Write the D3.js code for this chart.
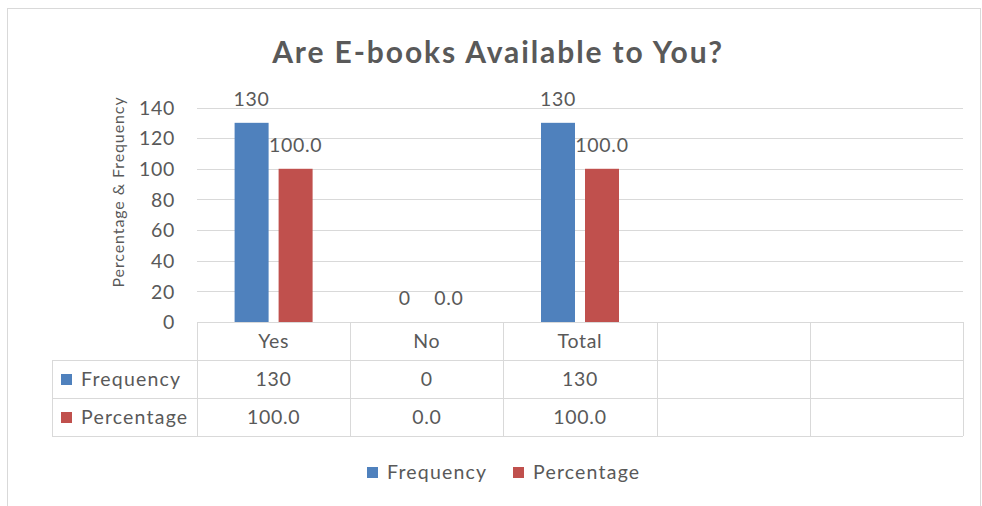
<!DOCTYPE html>
<html><head><meta charset="utf-8">
<script src="https://cdn.jsdelivr.net/npm/d3@7"></script>
<style>body{margin:0;background:#fff}svg{display:block}text{font-family:Lato,"Open Sans",sans-serif;fill:#595959}</style>
</head><body>
<script>
const title = "Are E-books Available to You?";
const categories = ["Yes", "No", "Total", "", ""];
const frequency = [130, 0, 130, null, null];
const percentage = [100.0, 0.0, 100.0, null, null];
const seriesNames = ["Frequency", "Percentage"];
const colors = ["#4f81bd", "#c0504d"];
const yTicks = [0, 20, 40, 60, 80, 100, 120, 140];
const yTitle = "Percentage & Frequency";

const W = 982, H = 506;
const svg = d3.select("body").append("svg").attr("width", W).attr("height", H);
svg.append("rect").attr("x", 7.5).attr("y", 8.5).attr("width", 973).attr("height", 520)
  .attr("fill", "#fff").attr("stroke", "#d9d9d9");

const pLeft = 197, pRight = 963, pTop = 107.5, pBottom = 322;
const x = d3.scaleBand().domain(d3.range(categories.length)).range([pLeft, pRight]);
const y = d3.scaleLinear().domain([0, 140]).range([pBottom, pTop]);
const LS = "0.7px";

svg.append("text").attr("x", 498).attr("y", 63).attr("text-anchor", "middle")
  .style("font-size", "30px").style("font-weight", "bold").style("letter-spacing", "1.9px").text(title);

// gridlines
svg.append("g").selectAll("line").data(yTicks.filter(d => d > 0)).join("line")
  .attr("x1", pLeft).attr("x2", pRight).attr("y1", d => Math.round(y(d)) + 0.5).attr("y2", d => Math.round(y(d)) + 0.5)
  .attr("stroke", "#d9d9d9");

// y axis
const ya = d3.axisLeft(y).tickValues(yTicks).tickSize(0).tickPadding(0);
const yg = svg.append("g").attr("transform", `translate(${pLeft - 22},0)`).call(ya);
yg.select(".domain").remove();
yg.selectAll("text").style("font-size", "19.5px").attr("fill", "#595959").attr("dy", "0.35em")
  .style("font-family", "Lato,sans-serif").style("letter-spacing", LS);

svg.append("text").attr("transform", `translate(124,192) rotate(-90)`)
  .attr("text-anchor", "middle").style("font-size", "16px").style("letter-spacing", "0.9px").text(yTitle);

// bars
const bw = 34, gap = 10;
const series = [frequency, percentage];
const fmt = [d3.format("d"), d3.format(".1f")];
series.forEach((vals, s) => {
  const offs = s === 0 ? -(bw + gap / 2) : gap / 2;
  const g = svg.append("g");
  vals.forEach((v, i) => {
    if (v === null) return;
    const cx = x(i) + x.bandwidth() / 2;
    g.append("rect").attr("x", cx + offs).attr("y", y(v)).attr("width", bw).attr("height", pBottom - y(v))
      .attr("fill", colors[s]);
    svg.append("text").attr("x", cx + offs + bw / 2).attr("y", y(v) - 24).attr("text-anchor", "middle")
      .attr("dy", "0.35em").style("font-size", "19.5px").style("letter-spacing", LS).text(fmt[s](v));
  });
});

// data table
const rowH = 38;
const tTop = 322, tLeft = 52;
const tg = svg.append("g").attr("stroke", "#d9d9d9").attr("fill", "none");
tg.append("line").attr("x1", pLeft).attr("x2", pRight).attr("y1", tTop + 0.5).attr("y2", tTop + 0.5);
for (let r = 1; r <= 3; r++) {
  tg.append("line").attr("x1", tLeft).attr("x2", pRight).attr("y1", tTop + r * rowH + 0.5).attr("y2", tTop + r * rowH + 0.5);
}
tg.append("line").attr("x1", tLeft + 0.5).attr("x2", tLeft + 0.5).attr("y1", tTop + rowH).attr("y2", tTop + 3 * rowH);
for (let i = 0; i <= categories.length; i++) {
  const xx = Math.round(pLeft + i * x.step()) + 0.5;
  tg.append("line").attr("x1", xx).attr("x2", xx).attr("y1", tTop).attr("y2", tTop + 3 * rowH);
}
categories.forEach((c, i) => {
  const cx = x(i) + x.bandwidth() / 2;
  svg.append("text").attr("x", cx).attr("y", tTop + rowH / 2).attr("dy", "0.35em").attr("text-anchor", "middle")
    .style("font-size", "19.5px").style("letter-spacing", LS).text(c);
  series.forEach((vals, s) => {
    if (vals[i] === null) return;
    svg.append("text").attr("x", cx).attr("y", tTop + rowH * (s + 1) + rowH / 2).attr("dy", "0.35em").attr("text-anchor", "middle")
      .style("font-size", "19.5px").style("letter-spacing", LS).text(fmt[s](vals[i]));
  });
});
seriesNames.forEach((n, s) => {
  const yy = tTop + rowH * (s + 1) + rowH / 2;
  svg.append("rect").attr("x", 61).attr("y", yy - 5).attr("width", 11).attr("height", 11).attr("fill", colors[s]);
  svg.append("text").attr("x", 81).attr("y", yy).attr("dy", "0.35em").style("font-size", "19.5px")
    .style("letter-spacing", "1.2px").text(n);
});

// legend
const legX = [367, 513];
seriesNames.forEach((n, s) => {
  svg.append("rect").attr("x", legX[s]).attr("y", 467).attr("width", 11).attr("height", 11).attr("fill", colors[s]);
  svg.append("text").attr("x", legX[s] + 20).attr("y", 472).attr("dy", "0.35em").style("font-size", "19.5px")
    .style("letter-spacing", "1.2px").text(n);
});
</script>
</body></html>
